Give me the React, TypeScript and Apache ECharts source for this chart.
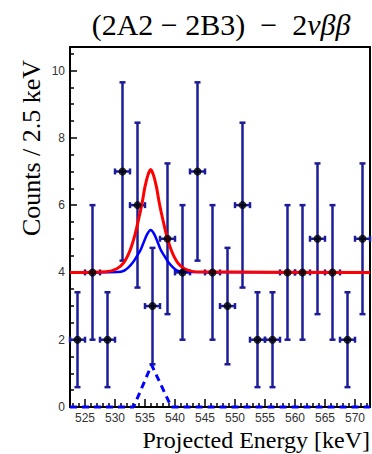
import React, { useEffect, useRef } from "react";
import * as echarts from "echarts";

// ---- data ----
const X_MIN = 522.5;
const X_MAX = 572.5;
const Y_MIN = 0;
const Y_MAX = 10.7;

const binCenters = [
  523.75, 526.25, 528.75, 531.25, 533.75, 536.25, 538.75, 541.25, 543.75, 546.25,
  548.75, 551.25, 553.75, 556.25, 558.75, 561.25, 563.75, 566.25, 568.75, 571.25,
];
const counts = [2, 4, 2, 7, 6, 3, 5, 4, 7, 4, 3, 6, 2, 2, 4, 4, 5, 4, 2, 5];
const countErrors = [
  1.41, 2.0, 1.41, 2.65, 2.45, 1.73, 2.24, 2.0, 2.65, 2.0,
  1.73, 2.45, 1.41, 1.41, 2.0, 2.0, 2.24, 2.0, 1.41, 2.24,
];
const binHalfWidth = 1.25;

// red: background + larger signal
const totalCurve: [number, number][] = [
  [522.5, 4.0], [528.5, 4.02], [530.3, 4.11], [531.5, 4.3], [532.5, 4.65],
  [533.3, 5.1], [533.9, 5.55], [534.5, 6.05], [535.0, 6.55], [535.5, 6.9],
  [535.95, 7.06], [536.4, 6.9], [536.9, 6.55], [537.4, 6.05], [538.0, 5.55],
  [538.6, 5.1], [539.4, 4.65], [540.4, 4.3], [541.6, 4.11], [543.4, 4.02],
  [572.5, 4.0],
];
// blue solid: background + fitted signal
const fitCurve: [number, number][] = [
  [522.5, 4.0], [530.5, 4.01], [531.5, 4.05], [532.2, 4.14], [533.0, 4.3],
  [533.7, 4.5], [534.3, 4.68], [534.9, 4.95], [535.4, 5.15], [535.95, 5.26],
  [536.5, 5.15], [537.0, 4.95], [537.6, 4.68], [538.2, 4.5], [538.9, 4.3],
  [539.7, 4.14], [540.4, 4.05], [541.4, 4.01], [572.5, 4.0],
];
// blue dashed: signal only
const signalCurve: [number, number][] = [
  [522.5, 0], [533.1, 0], [536.1, 1.25], [539.4, 0], [572.5, 0],
];

const xMajorTicks = [525, 530, 535, 540, 545, 550, 555, 560, 565, 570];
const xMinorTicks = [
  523, 524, 526, 527, 528, 529, 531, 532, 533, 534, 536, 537, 538, 539, 541, 542,
  543, 544, 546, 547, 548, 549, 551, 552, 553, 554, 556, 557, 558, 559, 561, 562,
  563, 564, 566, 567, 568, 569, 571, 572,
];
const yMajorTicks = [0, 2, 4, 6, 8, 10];
const yMinorTicks = [
  0.5, 1, 1.5, 2.5, 3, 3.5, 4.5, 5, 5.5, 6.5, 7, 7.5, 8.5, 9, 9.5, 10.5,
];

const chartTitle = "(2A2 − 2B3)  −  2";
const chartTitleGreek = "νββ";
const xTitle = "Projected Energy [keV]";
const yTitle = "Counts / 2.5 keV";

const ERR_COLOR = "#1c1c98";

export default function App() {
  const ref = useRef<HTMLDivElement>(null);

  useEffect(() => {
    if (!ref.current) return;
    const chart = echarts.init(ref.current, null, { renderer: "svg" });

    const points = binCenters.map((x, i) => [x, counts[i], countErrors[i]]);
    const labelStyle = {
      fontFamily: "Liberation Sans",
      fontSize: 12,
      color: "#333",
    };

    const option: any = {
      animation: false,
      backgroundColor: "#fff",
      grid: {
        left: 70,
        right: 2,
        top: 47,
        bottom: 47,
        show: true,
        borderColor: "#000",
        borderWidth: 2,
        backgroundColor: "transparent",
      },
      xAxis: [
        {
          type: "value",
          min: X_MIN,
          max: X_MAX,
          position: "bottom",
          axisLine: { show: false, onZero: false },
          axisTick: {
            show: true,
            inside: true,
            length: 8,
            customValues: xMajorTicks,
            lineStyle: { color: "#000", width: 1.5 },
          },
          axisLabel: { ...labelStyle, margin: 5, customValues: xMajorTicks },
          splitLine: { show: false },
        },
        {
          type: "value",
          min: X_MIN,
          max: X_MAX,
          position: "bottom",
          axisLine: { show: false, onZero: false },
          axisTick: {
            show: true,
            inside: true,
            length: 4,
            customValues: xMinorTicks,
            lineStyle: { color: "#000", width: 1.5 },
          },
          axisLabel: { show: false },
          splitLine: { show: false },
        },
      ],
      yAxis: [
        {
          type: "value",
          min: Y_MIN,
          max: Y_MAX,
          position: "left",
          axisLine: { show: false, onZero: false },
          axisTick: {
            show: true,
            inside: true,
            length: 7,
            customValues: yMajorTicks,
            lineStyle: { color: "#000", width: 1.5 },
          },
          axisLabel: { ...labelStyle, margin: 5, customValues: yMajorTicks },
          splitLine: { show: false },
        },
        {
          type: "value",
          min: Y_MIN,
          max: Y_MAX,
          position: "left",
          axisLine: { show: false, onZero: false },
          axisTick: {
            show: true,
            inside: true,
            length: 4,
            customValues: yMinorTicks,
            lineStyle: { color: "#000", width: 1.5 },
          },
          axisLabel: { show: false },
          splitLine: { show: false },
        },
      ],
      series: [
        {
          type: "custom",
          name: "errors",
          z: 2,
          data: points,
          renderItem: (params: any, api: any) => {
            const x = api.value(0);
            const y = api.value(1);
            const e = api.value(2);
            const top = api.coord([x, y + e]);
            const bot = api.coord([x, y - e]);
            const left = api.coord([x - binHalfWidth, y]);
            const right = api.coord([x + binHalfWidth, y]);
            const st = { stroke: ERR_COLOR, lineWidth: 2.5 };
            const cap = 3;
            return {
              type: "group",
              children: [
                { type: "line", shape: { x1: top[0], y1: top[1], x2: bot[0], y2: bot[1] }, style: st },
                { type: "line", shape: { x1: top[0] - cap, y1: top[1], x2: top[0] + cap, y2: top[1] }, style: st },
                { type: "line", shape: { x1: bot[0] - cap, y1: bot[1], x2: bot[0] + cap, y2: bot[1] }, style: st },
                { type: "line", shape: { x1: left[0], y1: left[1], x2: right[0], y2: right[1] }, style: st },
                { type: "line", shape: { x1: left[0], y1: left[1] - cap, x2: left[0], y2: left[1] + cap }, style: st },
                { type: "line", shape: { x1: right[0], y1: right[1] - cap, x2: right[0], y2: right[1] + cap }, style: st },
              ],
            };
          },
        },
        {
          type: "line",
          name: "fit",
          z: 3,
          data: fitCurve,
          showSymbol: false,
          smooth: 0.3,
          lineStyle: { color: "#0000ff", width: 2.5 },
        },
        {
          type: "line",
          name: "total",
          z: 3,
          data: totalCurve,
          showSymbol: false,
          smooth: 0.3,
          lineStyle: { color: "#ff0000", width: 3 },
        },
        {
          type: "scatter",
          name: "data",
          z: 4,
          data: points.map((p) => [p[0], p[1]]),
          symbol: "circle",
          symbolSize: 8,
          itemStyle: { color: "#000" },
        },
        {
          type: "line",
          name: "signal",
          z: 10,
          clip: false,
          data: signalCurve,
          showSymbol: false,
          lineStyle: { color: "#0000ff", width: 3, type: [7, 5] },
        },
      ],
      graphic: [
        {
          type: "text",
          x: 221,
          y: 24,
          style: {
            text: "{n|" + chartTitle + "}{i|" + chartTitleGreek + "}",
            align: "center",
            verticalAlign: "middle",
            fill: "#000",
            rich: {
              n: { fontFamily: "Liberation Serif", fontSize: 30, fill: "#000" },
              i: { fontFamily: "Liberation Serif", fontSize: 30, fontStyle: "italic", fill: "#000" },
            },
          },
        },
        {
          type: "text",
          x: 31,
          y: 148,
          rotation: Math.PI / 2,
          style: {
            text: yTitle,
            font: '26px "Liberation Serif"',
            align: "center",
            verticalAlign: "middle",
            fill: "#000",
          },
        },
        {
          type: "text",
          x: 370,
          y: 440,
          style: {
            text: xTitle,
            font: '24px "Liberation Serif"',
            align: "right",
            verticalAlign: "middle",
            fill: "#000",
          },
        },
      ],
    };

    chart.setOption(option);
    return () => chart.dispose();
  }, []);

  return (
    <div
      ref={ref}
      style={{ position: "absolute", left: 0, top: 0, width: 372, height: 454 }}
    />
  );
}
